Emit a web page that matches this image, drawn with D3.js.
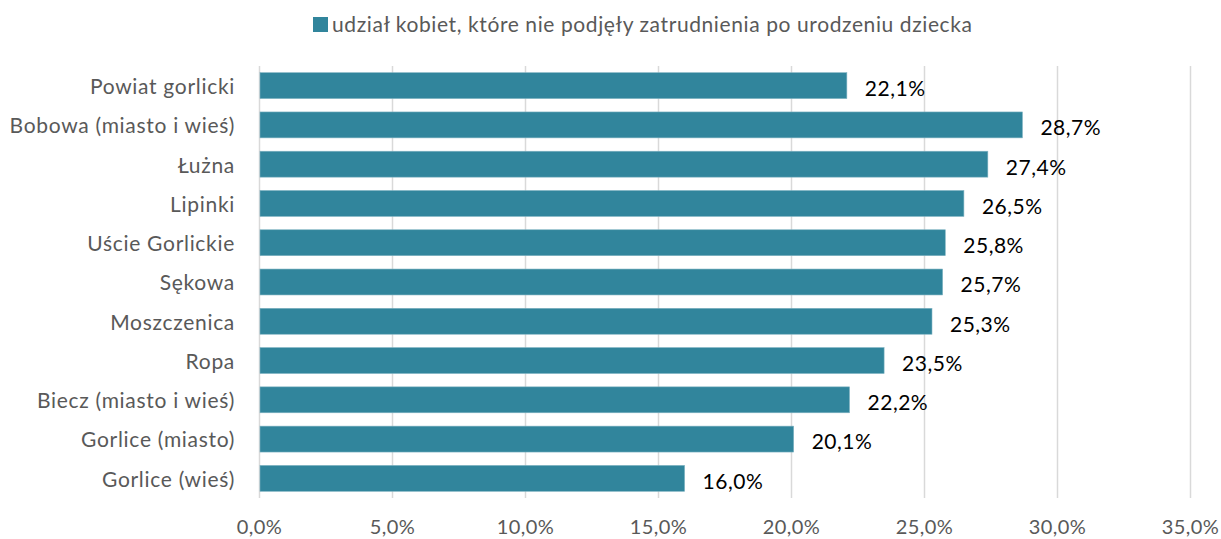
<!DOCTYPE html>
<html>
<head>
<meta charset="utf-8">
<script src="https://cdn.jsdelivr.net/npm/d3@7"></script>
<style>
  body { margin: 0; background: #fff; }
  svg { font-family: Lato, "Open Sans", sans-serif; }
</style>
</head>
<body>
<svg width="1221" height="539"></svg>
<script>
// Chart data
const categories = ["Powiat gorlicki", "Bobowa (miasto i wieś)", "Łużna", "Lipinki", "Uście Gorlickie",
  "Sękowa", "Moszczenica", "Ropa", "Biecz (miasto i wieś)", "Gorlice (miasto)", "Gorlice (wieś)"];
const values = [22.1, 28.7, 27.4, 26.5, 25.8, 25.7, 25.3, 23.5, 22.2, 20.1, 16.0];
const tickValues = [0, 5, 10, 15, 20, 25, 30, 35];
const seriesName = "udział kobiet, które nie podjęły zatrudnienia po urodzeniu dziecka";

const barColor = "#31859c";
const fmt = v => v.toFixed(1).replace(".", ",") + "%";

var svg = d3.select("svg"),
    margin = {top: 66, right: 31, bottom: 41, left: 259},
    width = +svg.attr("width") - margin.left - margin.right,
    height = +svg.attr("height") - margin.top - margin.bottom,
    g = svg.append("g").attr("transform", "translate(" + margin.left + "," + margin.top + ")");

var x = d3.scaleLinear().domain([0, 35]).range([0, width]);
var y = d3.scaleBand().domain(categories).range([0, height]).paddingInner(0.34).paddingOuter(0.17);

// Gridlines
g.selectAll(".grid")
    .data(tickValues)
    .enter().append("line")
    .attr("class", "grid")
    .attr("x1", d => Math.round(x(d)) + 0.5)
    .attr("x2", d => Math.round(x(d)) + 0.5)
    .attr("y1", 0)
    .attr("y2", height)
    .attr("stroke", "#d9d9d9")
    .attr("stroke-width", 1.5);

// x axis labels
var xAxis = g.append("g")
    .attr("transform", "translate(0," + height + ")")
    .call(d3.axisBottom(x).tickValues(tickValues).tickFormat(fmt).tickSize(0).tickPadding(22));
xAxis.select(".domain").remove();
xAxis.selectAll("text")
    .attr("fill", "#595959")
    .style("font-size", "20px")
    .style("letter-spacing", "0.4px")
    .style("font-family", "Lato, sans-serif");

// y axis labels
var yAxis = g.append("g")
    .call(d3.axisLeft(y).tickSize(0).tickPadding(24));
yAxis.select(".domain").remove();
yAxis.selectAll("text")
    .attr("fill", "#595959")
    .attr("dy", "0.4em")
    .style("font-size", "21px")
    .style("letter-spacing", "0.7px")
    .style("font-family", "Lato, sans-serif");

// Bars
g.selectAll(".bar")
    .data(values)
    .enter().append("rect")
    .attr("class", "bar")
    .attr("x", x(0) + 1)
    .attr("y", (d, i) => y(categories[i]))
    .attr("width", d => x(d) - x(0) - 1)
    .attr("height", y.bandwidth())
    .attr("fill", barColor)
    .attr("stroke", "#7fb3c2")
    .attr("stroke-width", 0.6);

// Data labels
g.selectAll(".label")
    .data(values)
    .enter().append("text")
    .attr("class", "label")
    .attr("x", d => x(d) + 18)
    .attr("y", (d, i) => y(categories[i]) + y.bandwidth() / 2 + 3)
    .attr("dy", "0.35em")
    .attr("fill", "#000")
    .style("font-size", "21px")
    .style("letter-spacing", "0.5px")
    .text(fmt);

// Legend
var legend = svg.append("g").attr("transform", "translate(313,17)");
legend.append("rect")
    .attr("width", 15).attr("height", 15)
    .attr("fill", barColor);
legend.append("text")
    .attr("x", 19)
    .attr("y", 8)
    .attr("dy", "0.35em")
    .attr("fill", "#595959")
    .style("font-size", "21px")
    .style("letter-spacing", "0.6px")
    .text(seriesName);
</script>
</body>
</html>
